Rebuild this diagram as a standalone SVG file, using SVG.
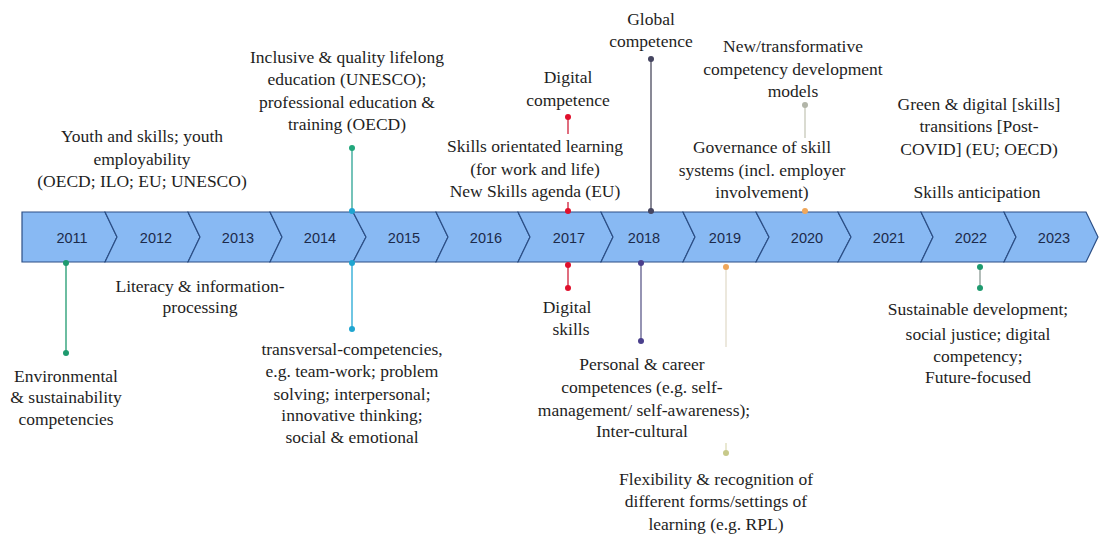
<svg xmlns="http://www.w3.org/2000/svg" width="1100" height="535" viewBox="0 0 1100 535">
<style>
.seg{fill:#88b9f3;stroke:#2c4f86;stroke-width:1.2;stroke-linejoin:miter}
.yr{font-size:14.5px;fill:#1c2a4a;text-anchor:middle}
.lb{font-size:17.5px;fill:#1e1e1e;text-anchor:middle}
</style>
<rect width="1100" height="535" fill="#ffffff"/>
<g id="timeline" font-family="Liberation Sans, Arial, sans-serif">
<path class="seg" d="M22,212 L105,212 L117,237 L105,262 L22,262 Z"/>
<path class="seg" d="M105,212 L188,212 L200,237 L188,262 L105,262 L117,237 Z"/>
<path class="seg" d="M188,212 L270,212 L282,237 L270,262 L188,262 L200,237 Z"/>
<path class="seg" d="M270,212 L353,212 L366,237 L353,262 L270,262 L282,237 Z"/>
<path class="seg" d="M353,212 L436,212 L448,237 L436,262 L353,262 L366,237 Z"/>
<path class="seg" d="M436,212 L518,212 L530,237 L518,262 L436,262 L448,237 Z"/>
<path class="seg" d="M518,212 L601,212 L613,237 L601,262 L518,262 L530,237 Z"/>
<path class="seg" d="M601,212 L683,212 L695,237 L683,262 L601,262 L613,237 Z"/>
<path class="seg" d="M683,212 L756,212 L769,237 L756,262 L683,262 L695,237 Z"/>
<path class="seg" d="M756,212 L838,212 L851,237 L838,262 L756,262 L769,237 Z"/>
<path class="seg" d="M838,212 L921,212 L933,237 L921,262 L838,262 L851,237 Z"/>
<path class="seg" d="M921,212 L1004,212 L1016,237 L1004,262 L921,262 L933,237 Z"/>
<path class="seg" d="M1004,212 L1086,212 L1098,237 L1086,262 L1004,262 L1016,237 Z"/>
<text class="yr" x="72" y="243">2011</text>
<text class="yr" x="156" y="243">2012</text>
<text class="yr" x="238" y="243">2013</text>
<text class="yr" x="320" y="243">2014</text>
<text class="yr" x="404" y="243">2015</text>
<text class="yr" x="486" y="243">2016</text>
<text class="yr" x="569" y="243">2017</text>
<text class="yr" x="644" y="243">2018</text>
<text class="yr" x="725" y="243">2019</text>
<text class="yr" x="807" y="243">2020</text>
<text class="yr" x="889" y="243">2021</text>
<text class="yr" x="971" y="243">2022</text>
<text class="yr" x="1054" y="243">2023</text>
</g>
<g id="connectors" stroke-width="1.3" fill="none">
<line x1="66" y1="263" x2="66" y2="353" stroke="#1e9a6e"/>
<circle cx="66" cy="263" r="3" fill="#1e9a6e" stroke="none"/>
<circle cx="66" cy="353" r="3" fill="#1e9a6e" stroke="none"/>
<line x1="352" y1="148" x2="352" y2="211" stroke="#2aa393"/>
<circle cx="352" cy="148" r="3" fill="#22a77c" stroke="none"/>
<circle cx="352" cy="211" r="3" fill="#1fa5d0" stroke="none"/>
<line x1="352" y1="263" x2="352" y2="329" stroke="#22a8d4"/>
<circle cx="352" cy="263" r="3" fill="#1fa5d0" stroke="none"/>
<circle cx="352" cy="329" r="3" fill="#1fa5d0" stroke="none"/>
<line x1="568" y1="117" x2="568" y2="134" stroke="#d0203a"/>
<circle cx="568" cy="117" r="3" fill="#e0102c" stroke="none"/>
<line x1="568" y1="202" x2="568" y2="211" stroke="#d0203a"/>
<circle cx="568" cy="211" r="3" fill="#e0102c" stroke="none"/>
<line x1="568" y1="265" x2="568" y2="288" stroke="#d0203a"/>
<circle cx="568" cy="265" r="3" fill="#e0102c" stroke="none"/>
<circle cx="568" cy="288" r="3" fill="#e0102c" stroke="none"/>
<line x1="651" y1="59" x2="651" y2="211" stroke="#4a4a5e"/>
<circle cx="651" cy="59" r="3" fill="#454560" stroke="none"/>
<circle cx="651" cy="211" r="3" fill="#454560" stroke="none"/>
<line x1="641" y1="263" x2="641" y2="341" stroke="#5d5a8a"/>
<circle cx="641" cy="263" r="3" fill="#4a3f8c" stroke="none"/>
<circle cx="641" cy="341" r="3" fill="#4a3f8c" stroke="none"/>
<line x1="726" y1="267" x2="726" y2="347" stroke="#e2dccb"/>
<circle cx="726" cy="267" r="3" fill="#f0a75a" stroke="none"/>
<line x1="726" y1="443" x2="726" y2="453" stroke="#dedcb8"/>
<circle cx="726" cy="453" r="3" fill="#c7c98a" stroke="none"/>
<line x1="805" y1="105" x2="805" y2="138" stroke="#c6c8b8"/>
<circle cx="805" cy="105" r="3" fill="#b2b5a8" stroke="none"/>
<circle cx="805" cy="211" r="3" fill="#f0a75a" stroke="none"/>
<line x1="980" y1="267" x2="980" y2="288" stroke="#8a9a94"/>
<circle cx="980" cy="267" r="3" fill="#1e9a6e" stroke="none"/>
<circle cx="980" cy="288" r="3" fill="#1e9a6e" stroke="none"/>
</g>
<g id="labels" font-family="Liberation Serif, Times New Roman, DejaVu Serif, serif">
<g id="n-youth"><text class="lb" x="142" y="142">Youth and skills; youth<tspan x="142" y="165">employability</tspan><tspan x="142" y="187">(OECD; ILO; EU; UNESCO)</tspan></text></g>
<g id="n-literacy"><text class="lb" x="200" y="292">Literacy &amp; information-<tspan x="200" y="313">processing</tspan></text></g>
<g id="n-environmental"><text class="lb" x="66" y="382">Environmental<tspan x="66" y="403">&amp; sustainability</tspan><tspan x="66" y="425">competencies</tspan></text></g>
<g id="n-inclusive"><text class="lb" x="347" y="63">Inclusive &amp; quality lifelong<tspan x="347" y="85">education (UNESCO);</tspan><tspan x="347" y="108">professional education &amp;</tspan><tspan x="347" y="130">training (OECD)</tspan></text></g>
<g id="n-transversal"><text class="lb" x="352" y="355">transversal-competencies,<tspan x="352" y="377">e.g. team-work; problem</tspan><tspan x="352" y="400">solving; interpersonal;</tspan><tspan x="352" y="421">innovative thinking;</tspan><tspan x="352" y="443">social &amp; emotional</tspan></text></g>
<g id="n-digital-competence"><text class="lb" x="568" y="83">Digital<tspan x="568" y="106">competence</tspan></text></g>
<g id="n-skills-orientated"><text class="lb" x="535" y="152">Skills orientated learning<tspan x="535" y="175">(for work and life)</tspan><tspan x="535" y="197">New Skills agenda (EU)</tspan></text></g>
<g id="n-global"><text class="lb" x="651" y="25">Global<tspan x="651" y="47">competence</tspan></text></g>
<g id="n-new-models"><text class="lb" x="793" y="52">New/transformative<tspan x="793" y="75">competency development</tspan><tspan x="793" y="97">models</tspan></text></g>
<g id="n-governance"><text class="lb" x="762" y="153">Governance of skill<tspan x="762" y="176">systems (incl. employer</tspan><tspan x="762" y="198">involvement)</tspan></text></g>
<g id="n-digital-skills"><text class="lb" x="567" y="313">Digital<tspan x="571" y="335">skills</tspan></text></g>
<g id="n-personal"><text class="lb" x="642" y="370">Personal &amp; career<tspan x="642" y="393">competences (e.g. self-</tspan><tspan x="644" y="416">management/  self-awareness);</tspan><tspan x="642" y="437">Inter-cultural</tspan></text></g>
<g id="n-flexibility"><text class="lb" x="716" y="485">Flexibility &amp; recognition of<tspan x="716" y="507">different forms/settings of</tspan><tspan x="716" y="530">learning (e.g. RPL)</tspan></text></g>
<g id="n-green"><text class="lb" x="979" y="110">Green &amp; digital [skills]<tspan x="979" y="132">transitions [Post-</tspan><tspan x="979" y="155">COVID] (EU; OECD)</tspan></text></g>
<g id="n-anticipation"><text class="lb" x="977" y="198">Skills anticipation</text></g>
<g id="n-sustainable"><text class="lb" x="978" y="315">Sustainable development;<tspan x="978" y="340">social justice; digital</tspan><tspan x="978" y="362">competency;</tspan><tspan x="978" y="383">Future-focused</tspan></text></g>
</g>
</svg>
